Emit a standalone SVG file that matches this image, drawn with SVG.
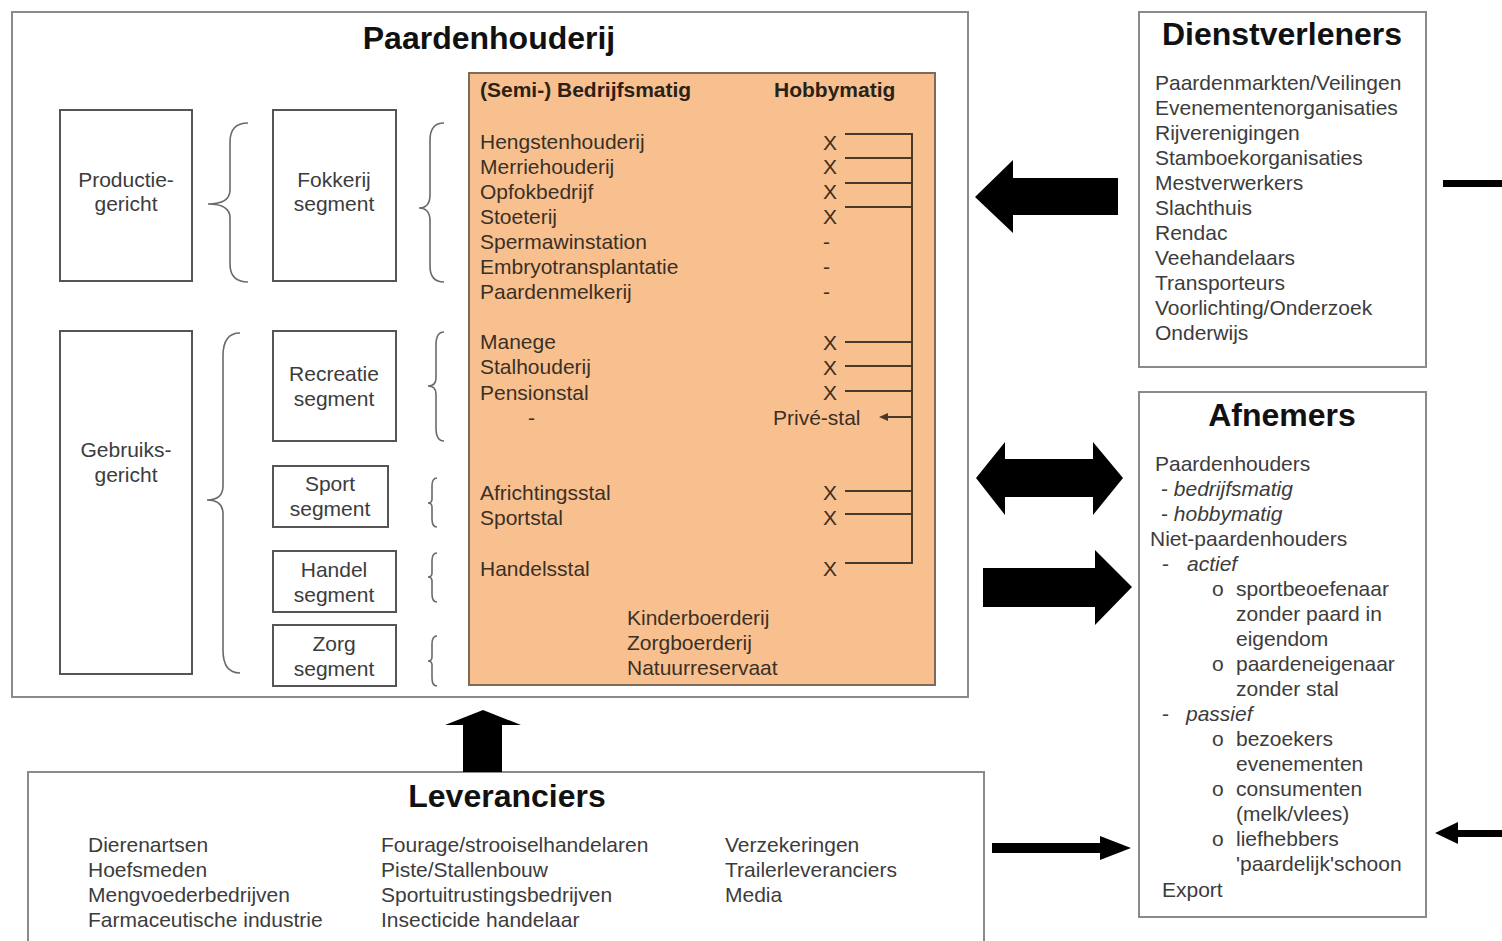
<svg xmlns="http://www.w3.org/2000/svg" width="1502" height="941" viewBox="0 0 1502 941">
<style>
  text { font-family: "Liberation Sans", Arial, sans-serif; fill: #3c3c3c; font-size: 21px; }
  .title { font-weight: bold; font-size: 32px; fill: #111; text-anchor: middle; }
  .hdr { font-weight: bold; font-size: 21px; fill: #2a2218; }
  .otext { fill: #3a3026; }
  .mid { text-anchor: middle; }
  .it { font-style: italic; }
  .frame { fill: #fff; stroke: #8a8a8a; stroke-width: 2; }
  .box { fill: #fff; stroke: #555; stroke-width: 2; }
  .brace { fill: none; stroke: #6a6a6a; stroke-width: 1.6; }
  .tie { fill: none; stroke: #4a3a2c; stroke-width: 2; }
  .big { fill: #000; }
</style>

<g id="paardenhouderij">
  <rect class="frame" x="12" y="12" width="956" height="685"/>
  <text class="title" x="489" y="49">Paardenhouderij</text>
</g>

<g id="productiegericht">
  <rect class="box" x="60" y="110" width="132" height="171"/>
  <text class="mid" x="126" y="187">Productie-</text>
  <text class="mid" x="126" y="211">gericht</text>
</g>
<g id="gebruiksgericht">
  <rect class="box" x="60" y="331" width="132" height="343"/>
  <text class="mid" x="126" y="457">Gebruiks-</text>
  <text class="mid" x="126" y="482">gericht</text>
</g>
<g id="fokkerij">
  <rect class="box" x="273" y="110" width="123" height="171"/>
  <text class="mid" x="334" y="187">Fokkerij</text>
  <text class="mid" x="334" y="211">segment</text>
</g>
<g id="recreatie">
  <rect class="box" x="273" y="331" width="123" height="110"/>
  <text class="mid" x="334" y="381">Recreatie</text>
  <text class="mid" x="334" y="406">segment</text>
</g>
<g id="sport">
  <rect class="box" x="273" y="466" width="115" height="61"/>
  <text class="mid" x="330" y="491">Sport</text>
  <text class="mid" x="330" y="516">segment</text>
</g>
<g id="handel">
  <rect class="box" x="273" y="551" width="123" height="61"/>
  <text class="mid" x="334" y="577">Handel</text>
  <text class="mid" x="334" y="602">segment</text>
</g>
<g id="zorg">
  <rect class="box" x="273" y="625" width="123" height="61"/>
  <text class="mid" x="334" y="651">Zorg</text>
  <text class="mid" x="334" y="676">segment</text>
</g>

<g id="braces">
  <path class="brace" d="M248,123 Q230,123 230,142 L230,190 Q230,204 208,204 Q230,204 230,218 L230,264 Q230,282 248,282"/>
  <path class="brace" d="M444,123 Q430,123 430,140 L430,195 Q430,208 419,208 Q430,208 430,221 L430,266 Q430,282 444,282"/>
  <path class="brace" d="M240,333 Q223,333 223,356 L223,486 Q223,500 207,500 Q223,500 223,514 L223,650 Q223,673 240,673"/>
  <path class="brace" d="M444,332 Q436,332 436,345 L436,378 Q436,386 428,386 Q436,386 436,394 L436,428 Q436,441 444,441"/>
  <path class="brace" d="M437,478 Q432,478 432,486 L432,499 Q432,503 428,503 Q432,503 432,507 L432,519 Q432,527 437,527"/>
  <path class="brace" d="M437,553 Q432,553 432,561 L432,573 Q432,577 428,577 Q432,577 432,581 L432,594 Q432,602 437,602"/>
  <path class="brace" d="M437,636 Q432,636 432,644 L432,657 Q432,661 428,661 Q432,661 432,665 L432,678 Q432,686 437,686"/>
</g>

<g id="bedrijfstypen">
  <rect x="469" y="73" width="466" height="612" fill="#F9C08F" stroke="#7d6a58" stroke-width="2"/>
  <text class="hdr" x="480" y="97">(Semi-) Bedrijfsmatig</text>
  <text class="hdr" x="774" y="97">Hobbymatig</text>
  <g class="otext">
    <text class="otext" x="480" y="149">Hengstenhouderij</text>
    <text class="otext" x="480" y="174">Merriehouderij</text>
    <text class="otext" x="480" y="199">Opfokbedrijf</text>
    <text class="otext" x="480" y="224">Stoeterij</text>
    <text class="otext" x="480" y="249">Spermawinstation</text>
    <text class="otext" x="480" y="274">Embryotransplantatie</text>
    <text class="otext" x="480" y="299">Paardenmelkerij</text>
    <text class="otext" x="480" y="349">Manege</text>
    <text class="otext" x="480" y="374">Stalhouderij</text>
    <text class="otext" x="480" y="400">Pensionstal</text>
    <text class="otext" x="528" y="425">-</text>
    <text class="otext" x="480" y="500">Africhtingsstal</text>
    <text class="otext" x="480" y="525">Sportstal</text>
    <text class="otext" x="480" y="576">Handelsstal</text>
    <text class="otext" x="627" y="625">Kinderboerderij</text>
    <text class="otext" x="627" y="650">Zorgboerderij</text>
    <text class="otext" x="627" y="675">Natuurreservaat</text>
    <text class="otext" x="823" y="150">X</text>
    <text class="otext" x="823" y="174">X</text>
    <text class="otext" x="823" y="199">X</text>
    <text class="otext" x="823" y="224">X</text>
    <text class="otext" x="823" y="249">-</text>
    <text class="otext" x="823" y="274">-</text>
    <text class="otext" x="823" y="299">-</text>
    <text class="otext" x="823" y="350">X</text>
    <text class="otext" x="823" y="375">X</text>
    <text class="otext" x="823" y="400">X</text>
    <text class="otext" x="773" y="425">Privé-stal</text>
    <text class="otext" x="823" y="500">X</text>
    <text class="otext" x="823" y="525">X</text>
    <text class="otext" x="823" y="576">X</text>
  </g>
  <path class="tie" d="M845,134 H912 V563 H845 M845,158 H912 M845,183 H912 M845,207 H912 M845,342 H912 M845,366 H912 M845,391 H912 M845,491 H912 M845,514 H912 M912,417 H886"/>
  <polygon points="879,417 888,413 888,421" fill="#4a3a2c"/>
</g>

<g id="dienstverleners">
  <rect class="frame" x="1139" y="12" width="287" height="355"/>
  <text class="title" x="1282" y="45">Dienstverleners</text>
  <text x="1155" y="90">Paardenmarkten/Veilingen</text>
  <text x="1155" y="115">Evenementenorganisaties</text>
  <text x="1155" y="140">Rijverenigingen</text>
  <text x="1155" y="165">Stamboekorganisaties</text>
  <text x="1155" y="190">Mestverwerkers</text>
  <text x="1155" y="215">Slachthuis</text>
  <text x="1155" y="240">Rendac</text>
  <text x="1155" y="265">Veehandelaars</text>
  <text x="1155" y="290">Transporteurs</text>
  <text x="1155" y="315">Voorlichting/Onderzoek</text>
  <text x="1155" y="340">Onderwijs</text>
</g>

<g id="afnemers">
  <rect class="frame" x="1139" y="392" width="287" height="525"/>
  <text class="title" x="1282" y="426">Afnemers</text>
  <text x="1155" y="471">Paardenhouders</text>
  <text x="1161" y="496">- <tspan class="it">bedrijfsmatig</tspan></text>
  <text x="1161" y="521">- <tspan class="it">hobbymatig</tspan></text>
  <text x="1150" y="546">Niet-paardenhouders</text>
  <text x="1162" y="571">-</text>
  <text class="it" x="1187" y="571">actief</text>
  <text x="1212" y="596" font-size="17">o</text>
  <text x="1236" y="596">sportbeoefenaar</text>
  <text x="1236" y="621">zonder paard in</text>
  <text x="1236" y="646">eigendom</text>
  <text x="1212" y="671" font-size="17">o</text>
  <text x="1236" y="671">paardeneigenaar</text>
  <text x="1236" y="696">zonder stal</text>
  <text x="1162" y="721">-</text>
  <text class="it" x="1186" y="721">passief</text>
  <text x="1212" y="746" font-size="17">o</text>
  <text x="1236" y="746">bezoekers</text>
  <text x="1236" y="771">evenementen</text>
  <text x="1212" y="796" font-size="17">o</text>
  <text x="1236" y="796">consumenten</text>
  <text x="1236" y="821">(melk/vlees)</text>
  <text x="1212" y="846" font-size="17">o</text>
  <text x="1236" y="846">liefhebbers</text>
  <text x="1236" y="871">'paardelijk'schoon</text>
  <text x="1162" y="897">Export</text>
</g>

<g id="leveranciers">
  <rect class="frame" x="28" y="772" width="956" height="190"/>
  <text class="title" x="507" y="807">Leveranciers</text>
  <text x="88" y="852">Dierenartsen</text>
  <text x="88" y="877">Hoefsmeden</text>
  <text x="88" y="902">Mengvoederbedrijven</text>
  <text x="88" y="927">Farmaceutische industrie</text>
  <text x="381" y="852">Fourage/strooiselhandelaren</text>
  <text x="381" y="877">Piste/Stallenbouw</text>
  <text x="381" y="902">Sportuitrustingsbedrijven</text>
  <text x="381" y="927">Insecticide handelaar</text>
  <text x="725" y="852">Verzekeringen</text>
  <text x="725" y="877">Trailerleveranciers</text>
  <text x="725" y="902">Media</text>
</g>

<g id="connectors">
  <polygon class="big" points="975,197 1013,160 1013,178 1118,178 1118,215 1013,215 1013,233"/>
  <polygon class="big" points="976,478 1005,442 1005,459 1093,459 1093,442 1123,478 1093,515 1093,497 1005,497 1005,515"/>
  <polygon class="big" points="983,568 1095,568 1095,550 1132,587 1095,625 1095,607 983,607"/>
  <polygon class="big" points="483,710 521,725 502,725 502,772 463,772 463,725 445,725"/>
  <polygon class="big" points="992,843 1100,843 1100,836 1131,848 1100,860 1100,853 992,853"/>
  <rect class="big" x="1443" y="180" width="59" height="7"/>
  <polygon class="big" points="1435,833 1458,822 1458,830 1502,830 1502,837 1458,837 1458,844"/>
</g>
</svg>
